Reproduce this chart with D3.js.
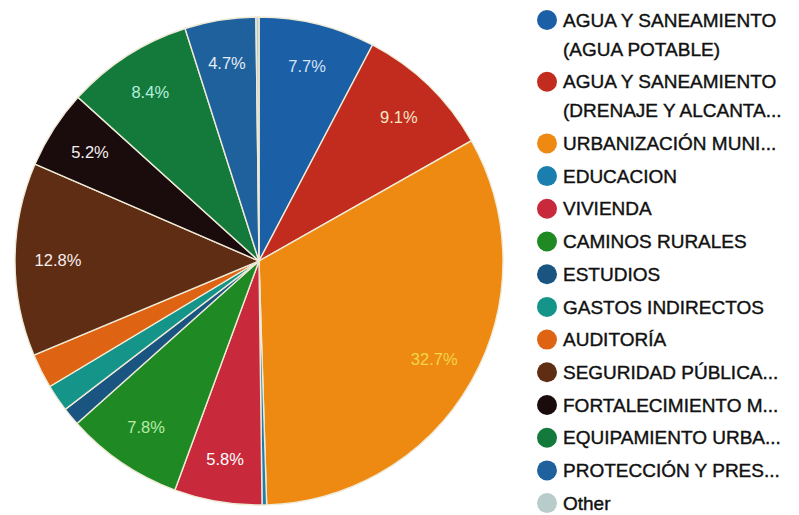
<!DOCTYPE html>
<html lang="es">
<head>
  <meta charset="utf-8">
  <title>Pie</title>
  <script src="https://d3js.org/d3.v7.min.js"></script>
  <style>
    body { margin: 0; background: #fff; }
    text { font-family: "Liberation Sans", Arial, sans-serif; }
  </style>
</head>
<body>
<script>
// data
var categories = [
  "AGUA Y SANEAMIENTO\n(AGUA POTABLE)",
  "AGUA Y SANEAMIENTO\n(DRENAJE Y ALCANTA...",
  "URBANIZACIÓN MUNI...",
  "EDUCACION",
  "VIVIENDA",
  "CAMINOS RURALES",
  "ESTUDIOS",
  "GASTOS INDIRECTOS",
  "AUDITORÍA",
  "SEGURIDAD PÚBLICA...",
  "FORTALECIMIENTO M...",
  "EQUIPAMIENTO URBA...",
  "PROTECCIÓN Y PRES...",
  "Other"
];
var values = [7.7, 9.1, 32.7, 0.3, 5.8, 7.8, 1.2, 1.8, 2.3, 12.8, 5.2, 8.4, 4.7, 0.2];
var colors = ["#1b5fa6", "#c22c1e", "#ee8912", "#1a7fae", "#c82a3c", "#1f8a24",
              "#1a5582", "#15948a", "#de6414", "#5e2d14", "#1a0b0d", "#137a3c",
              "#1f619c", "#b9cccc"];
var labelColors = ["#d4e4f6", "#f6e8c4", "#f2d64a", "#fff", "#fff", "#b8eaa8",
                   "#fff", "#fff", "#fff", "#fbeeee", "#f4f0f0", "#b6efdc",
                   "#e4ecf6", "#fff"];

var width = 799, height = 515;
var cx = 259, cy = 261, R = 244;

var svg = d3.select("body").append("svg")
  .attr("width", width)
  .attr("height", height);

var data = categories.map(function (c, i) { return { name: c, value: values[i], i: i }; });

var pie = d3.pie().sort(null).value(function (d) { return d.value; });
var arc = d3.arc().innerRadius(0).outerRadius(R);
var labelArc = d3.arc().innerRadius(201).outerRadius(201);

var g = svg.append("g").attr("transform", "translate(" + cx + "," + cy + ")");

var arcs = pie(data);

g.selectAll("path")
  .data(arcs)
  .enter()
  .append("path")
  .attr("d", arc)
  .attr("fill", function (d) { return colors[d.data.i]; })
  .attr("stroke", "#eeead6")
  .attr("stroke-width", 1.4);

// percentage labels, only for slices big enough
g.selectAll("text.pct")
  .data(arcs.filter(function (d) { return d.data.value >= 4; }))
  .enter()
  .append("text")
  .attr("class", "pct")
  .attr("transform", function (d) { return "translate(" + labelArc.centroid(d) + ")"; })
  .attr("text-anchor", "middle")
  .attr("dy", "0.36em")
  .attr("font-size", "16.5px")
  .attr("fill", function (d) { return labelColors[d.data.i]; })
  .text(function (d) { return d.data.value.toFixed(1) + "%"; });

// legend
var legend = svg.append("g");
var y = 20;
data.forEach(function (d) {
  var lines = d.name.split("\n");
  legend.append("circle")
    .attr("cx", 547)
    .attr("cy", y)
    .attr("r", 10)
    .attr("fill", colors[d.i]);
  lines.forEach(function (line, k) {
    legend.append("text")
      .attr("x", 563)
      .attr("y", y + k * 29)
      .attr("dy", "0.35em")
      .attr("font-size", "19px")
      .attr("fill", "#111")
      .attr("stroke", "#111")
      .attr("stroke-width", 0.4)
      .text(line);
  });
  y += (lines.length - 1) * 29 + 32.7;
});
</script>
</body>
</html>
